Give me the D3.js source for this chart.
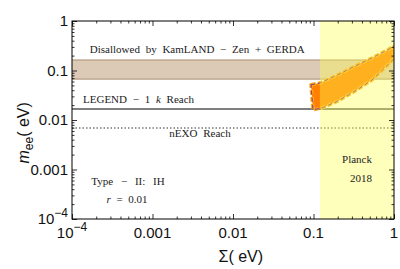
<!DOCTYPE html>
<html>
<head>
<meta charset="utf-8">
<script src="https://cdn.jsdelivr.net/npm/d3@7"></script>
<style>
  body { margin: 0; background: #fff; }
  svg { display: block; }
  .note { font-family: "Liberation Serif", serif; font-size: 11px; fill: #222; word-spacing: 3px; }
  .tick-label { font-family: "Liberation Sans", Arial, sans-serif; font-size: 15px; fill: #111; }
  .axis-title { font-family: "Liberation Sans", Arial, sans-serif; font-size: 16px; fill: #111; }
</style>
</head>
<body>
<div id="chart"></div>
<script>
    // decade ticks shared by both axes
    var decades = [1e-4, 1e-3, 1e-2, 1e-1, 1];
    var xTickLabels = ['10|-4', '0.001', '0.01', '0.1', '1'];
    var yTickLabels = ['10|-4', '0.001', '0.01', '0.1', '1'];

    // experimental bounds on m_ee (eV)
    var kamlandBand = [0.067, 0.163];
    var legendReach = 0.0167;
    var nexoReach = 0.0069;
    var planckLimit = 0.12;

    // allowed region, Type-II IH, r = 0.01
    var upperSigma = [0.093, 0.1205, 0.2015, 0.328, 0.533, 0.842, 1.0];
    var upperMee   = [0.0516, 0.0559, 0.0822, 0.123, 0.179, 0.263, 0.313];
    var lowerSigma = [0.0986, 0.1276, 0.2015, 0.328, 0.533, 0.842, 1.0];
    var lowerMee   = [0.0161, 0.0175, 0.0242, 0.0385, 0.0643, 0.131, 0.173];

    var width = 400;
    var height = 269;
    var margin = { left: 72, right: 6, top: 21, bottom: 50 };

    var svg = d3.select('#chart')
        .append('svg')
        .attr('width', width)
        .attr('height', height);

    var x = d3.scaleLog()
        .domain([1e-4, 1])
        .range([margin.left, width - margin.right]);

    var y = d3.scaleLog()
        .domain([1e-4, 1])
        .range([height - margin.bottom, margin.top]);

    svg.append('defs').append('clipPath')
        .attr('id', 'plot-clip')
        .append('rect')
        .attr('x', x.range()[0])
        .attr('y', y.range()[1])
        .attr('width', x.range()[1] - x.range()[0])
        .attr('height', y.range()[0] - y.range()[1]);

    var plot = svg.append('g').attr('clip-path', 'url(#plot-clip)');

    // KamLAND-Zen + GERDA band
    plot.append('rect')
        .attr('x', x(1e-4))
        .attr('y', y(kamlandBand[1]))
        .attr('width', x(1) - x(1e-4))
        .attr('height', y(kamlandBand[0]) - y(kamlandBand[1]))
        .attr('fill', '#dccab6');

    kamlandBand.forEach(function(v) {
        plot.append('line')
            .attr('x1', x(1e-4)).attr('x2', x(1))
            .attr('y1', y(v)).attr('y2', y(v))
            .attr('stroke', '#a88d70')
            .attr('stroke-width', 1);
    });

    // LEGEND-1k and nEXO reach
    plot.append('line')
        .attr('x1', x(1e-4)).attr('x2', x(1))
        .attr('y1', y(legendReach)).attr('y2', y(legendReach))
        .attr('stroke', '#000')
        .attr('stroke-width', 1.1);

    plot.append('line')
        .attr('x1', x(1e-4)).attr('x2', x(1))
        .attr('y1', y(nexoReach)).attr('y2', y(nexoReach))
        .attr('stroke', '#777')
        .attr('stroke-width', 1.3)
        .attr('stroke-dasharray', '1.5,2');

    // allowed region polygon
    var upper = upperSigma.map(function(s, i) { return [s, upperMee[i]]; });
    var lower = lowerSigma.map(function(s, i) { return [s, lowerMee[i]]; });
    var region = upper.concat(lower.slice().reverse());

    var line = d3.line()
        .x(function(d) { return x(d[0]); })
        .y(function(d) { return y(d[1]); });

    plot.append('path')
        .attr('d', line(region) + 'Z')
        .attr('fill', '#ff8000')
        .attr('stroke', '#ffa81a')
        .attr('stroke-width', 3.5)
        .attr('stroke-linejoin', 'round')
        .attr('stroke-dasharray', '5,2');

    plot.append('path')
        .attr('d', line(region) + 'Z')
        .attr('fill', 'none')
        .attr('stroke', '#7a3a8a')
        .attr('stroke-width', 1)
        .attr('stroke-dasharray', '4,3');

    // Planck 2018 excluded region drawn on top, translucent
    plot.append('rect')
        .attr('x', x(planckLimit))
        .attr('y', y(1))
        .attr('width', x(1) - x(planckLimit))
        .attr('height', y(1e-4) - y(1))
        .attr('fill', '#ffff50')
        .attr('fill-opacity', 0.38);

    // frame
    svg.append('rect')
        .attr('x', x.range()[0])
        .attr('y', y.range()[1])
        .attr('width', x.range()[1] - x.range()[0])
        .attr('height', y.range()[0] - y.range()[1])
        .attr('fill', 'none')
        .attr('stroke', '#000')
        .attr('stroke-width', 1);

    // minor ticks 2..9 per decade
    var minor = [];
    decades.slice(0, -1).forEach(function(d) {
        for (var k = 2; k <= 9; k++) minor.push(d * k);
    });

    function addTicks(axisFn, scale, pos, values, size) {
        var g = svg.append('g')
            .attr('transform', pos)
            .call(axisFn(scale).tickValues(values).tickSize(size).tickFormat(''));
        g.select('.domain').remove();
        g.selectAll('line').attr('stroke', '#000').attr('stroke-width', 0.8);
        return g;
    }

    var bottomY = y.range()[0], topY = y.range()[1];
    var leftX = x.range()[0], rightX = x.range()[1];

    addTicks(d3.axisBottom, x, 'translate(0,' + bottomY + ')', decades, -5);
    addTicks(d3.axisBottom, x, 'translate(0,' + bottomY + ')', minor, -2.5);
    addTicks(d3.axisTop, x, 'translate(0,' + topY + ')', decades, -5);
    addTicks(d3.axisTop, x, 'translate(0,' + topY + ')', minor, -2.5);
    addTicks(d3.axisLeft, y, 'translate(' + leftX + ',0)', decades, -5);
    addTicks(d3.axisLeft, y, 'translate(' + leftX + ',0)', minor, -2.5);
    addTicks(d3.axisRight, y, 'translate(' + rightX + ',0)', decades, -5);
    addTicks(d3.axisRight, y, 'translate(' + rightX + ',0)', minor, -2.5);

    // tick labels, "10|-4" means 10 with superscript -4
    function writeLabel(sel, label) {
        var parts = label.split('|');
        sel.append('tspan').text(parts[0]);
        if (parts.length > 1) {
            sel.append('tspan')
                .attr('dy', -7)
                .style('font-size', '12px')
                .text('\u2212' + parts[1].replace('-', ''));
        }
    }

    decades.forEach(function(d, i) {
        var t = svg.append('text')
            .attr('class', 'tick-label')
            .attr('x', x(d))
            .attr('y', bottomY + 19)
            .attr('text-anchor', 'middle');
        writeLabel(t, xTickLabels[i]);
    });

    decades.forEach(function(d, i) {
        var t = svg.append('text')
            .attr('class', 'tick-label')
            .attr('x', leftX - 4)
            .attr('y', y(d) + 5)
            .attr('text-anchor', 'end');
        writeLabel(t, yTickLabels[i]);
    });

    // axis titles
    var xt = svg.append('text')
        .attr('class', 'axis-title')
        .attr('x', x(0.0125))
        .attr('y', 262)
        .attr('text-anchor', 'middle');
    xt.append('tspan').text('\u03a3( eV)');

    var yt = svg.append('text')
        .attr('class', 'axis-title')
        .attr('transform', 'translate(29,' + y(0.0055) + ') rotate(-90)')
        .attr('text-anchor', 'middle');
    yt.append('tspan').style('font-style', 'italic').text('m');
    yt.append('tspan').attr('dy', 4).style('font-size', '12px').text('ee');
    yt.append('tspan').attr('dy', -4).text('( eV)');

    // annotations
    svg.append('text').attr('class', 'note')
        .attr('x', x(0.0036)).attr('y', 53).attr('text-anchor', 'middle')
        .text('Disallowed by KamLAND \u2212 Zen + GERDA');

    var lg = svg.append('text').attr('class', 'note')
        .attr('x', 83).attr('y', 103);
    lg.append('tspan').text('LEGEND \u2212 1 ');
    lg.append('tspan').style('font-style', 'italic').text('k');
    lg.append('tspan').text(' Reach');

    svg.append('text').attr('class', 'note')
        .attr('x', 200).attr('y', 137).attr('text-anchor', 'middle')
        .text('nEXO Reach');

    svg.append('text').attr('class', 'note')
        .attr('x', 128).attr('y', 185).attr('text-anchor', 'middle')
        .style('word-spacing', '5px')
        .text('Type \u2212 II: IH');

    var rr = svg.append('text').attr('class', 'note')
        .attr('x', 127).attr('y', 203).attr('text-anchor', 'middle');
    rr.append('tspan').style('font-style', 'italic').text('r');
    rr.append('tspan').text(' = 0.01');

    svg.append('text').attr('class', 'note')
        .attr('x', 357).attr('y', 163).attr('text-anchor', 'middle')
        .text('Planck');
    svg.append('text').attr('class', 'note')
        .attr('x', 361).attr('y', 182).attr('text-anchor', 'middle')
        .text('2018');
</script>
</body>
</html>
